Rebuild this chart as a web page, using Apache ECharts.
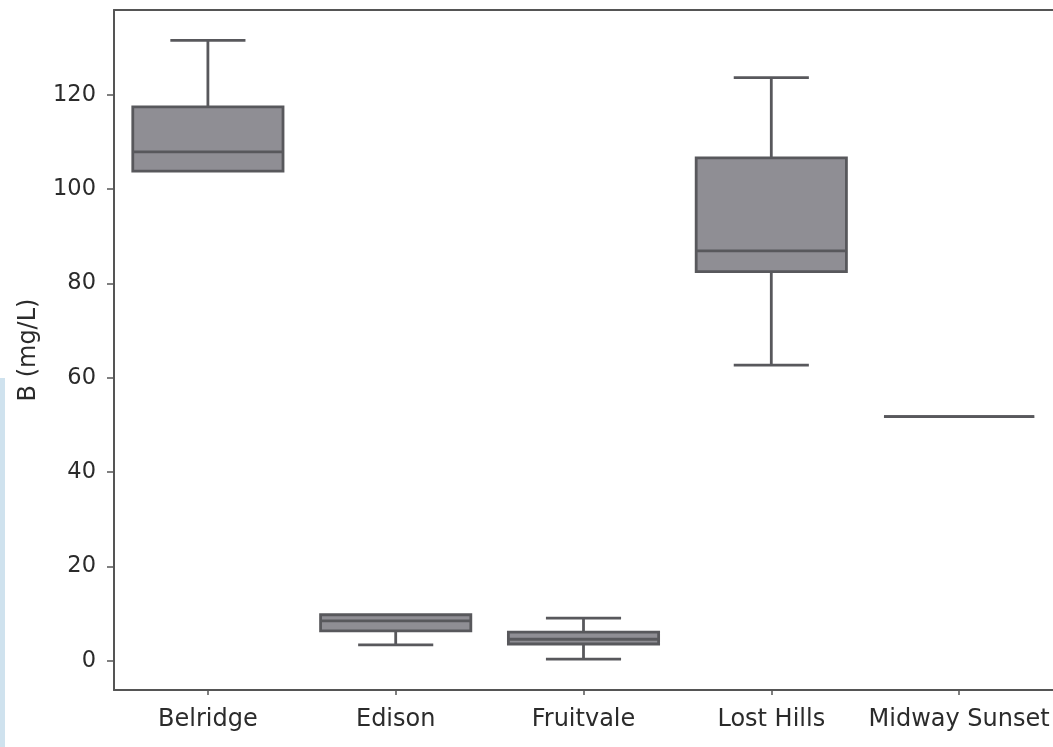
<!DOCTYPE html>
<html>
<head>
<meta charset="utf-8">
<script src="https://cdn.jsdelivr.net/npm/echarts@6/dist/echarts.min.js"></script>
<style>
html,body{margin:0;padding:0;background:#fff;}
#chart{width:1053px;height:747px;}
</style>
</head>
<body>
<div id="chart"></div>
<script>
// Data
var categories = ['Belridge', 'Edison', 'Fruitvale', 'Lost Hills', 'Midway Sunset'];
// [lower whisker, Q1, median, Q3, upper whisker]
var belridge = [103.8, 103.8, 107.9, 117.4, 131.5];
var edison = [3.4, 6.4, 8.5, 9.8, 9.8];
var fruitvale = [0.4, 3.6, 4.6, 6.1, 9.1];
var lostHills = [62.7, 82.5, 86.9, 106.6, 123.6];
var midwaySunset = [51.8, 51.8, 51.8, 51.8, 51.8];
var yTicks = [0, 20, 40, 60, 80, 100, 120];
var yMin = -6.15, yMax = 137.95;

var boxes = [belridge, edison, fruitvale, lostHills, midwaySunset];
var seriesData = boxes.map(function (b, i) { return [i].concat(b); });

var FILL = '#8f8e94', EDGE = '#58585c', LW = 2.8;
var TEXT = '#2b2b2b', AXIS = '#555555';

function renderItem(params, api) {
  var idx = api.value(0);
  var lo = api.coord([idx, api.value(1)]);
  var q1 = api.coord([idx, api.value(2)]);
  var med = api.coord([idx, api.value(3)]);
  var q3 = api.coord([idx, api.value(4)]);
  var hi = api.coord([idx, api.value(5)]);
  var bw = api.size([1, 0])[0] * 0.8;
  var cx = q1[0];
  var capHalf = bw / 4;
  var ls = { stroke: EDGE, lineWidth: LW, fill: null };
  var children = [];
  if (hi[1] < q3[1] - 0.5) {
    children.push({ type: 'line', shape: { x1: cx, y1: q3[1], x2: cx, y2: hi[1] }, style: ls });
    children.push({ type: 'line', shape: { x1: cx - capHalf, y1: hi[1], x2: cx + capHalf, y2: hi[1] }, style: ls });
  }
  if (lo[1] > q1[1] + 0.5) {
    children.push({ type: 'line', shape: { x1: cx, y1: q1[1], x2: cx, y2: lo[1] }, style: ls });
    children.push({ type: 'line', shape: { x1: cx - capHalf, y1: lo[1], x2: cx + capHalf, y2: lo[1] }, style: ls });
  }
  children.push({ type: 'rect', shape: { x: cx - bw / 2, y: q3[1], width: bw, height: q1[1] - q3[1] },
    style: { fill: FILL, stroke: EDGE, lineWidth: LW } });
  children.push({ type: 'line', shape: { x1: cx - bw / 2, y1: med[1], x2: cx + bw / 2, y2: med[1] }, style: ls });
  return { type: 'group', children: children };
}

var chart = echarts.init(document.getElementById('chart'), null, { renderer: 'canvas' });
chart.setOption({
  backgroundColor: '#ffffff',
  animation: false,
  graphic: [{
    type: 'rect', left: 0, top: 378, shape: { width: 5, height: 369 },
    style: { fill: '#cfe2ee' }, z: -1
  }],
  grid: { left: 114, top: 10, width: 943, height: 680 },
  xAxis: [{
    type: 'category',
    data: categories,
    position: 'bottom',
    axisLine: { show: true, onZero: false, lineStyle: { color: AXIS, width: 2 } },
    axisTick: { show: true, alignWithLabel: true, length: 5, lineStyle: { color: AXIS, width: 1.5 } },
    axisLabel: { color: TEXT, fontSize: 24, fontFamily: 'DejaVu Sans', margin: 18, interval: 0 },
    splitLine: { show: false }
  }, {
    type: 'category',
    data: categories,
    position: 'top',
    axisLine: { show: true, onZero: false, lineStyle: { color: AXIS, width: 2 } },
    axisTick: { show: false },
    axisLabel: { show: false },
    splitLine: { show: false }
  }],
  yAxis: {
    type: 'value',
    min: yMin,
    max: yMax,
    name: 'B (mg/L)',
    nameLocation: 'middle',
    nameGap: 73,
    nameTextStyle: { color: TEXT, fontSize: 24, fontFamily: 'DejaVu Sans' },
    axisLine: { show: true, onZero: false, lineStyle: { color: AXIS, width: 2 } },
    axisTick: { show: true, length: 7, lineStyle: { color: AXIS, width: 1.5 }, customValues: yTicks },
    axisLabel: { color: TEXT, fontSize: 22.5, fontFamily: 'DejaVu Sans', margin: 18, customValues: yTicks },
    splitLine: { show: false }
  },
  series: [{
    type: 'custom',
    renderItem: renderItem,
    encode: { x: 0, y: [1, 2, 3, 4, 5] },
    data: seriesData,
    clip: false
  }]
});
</script>
</body>
</html>
